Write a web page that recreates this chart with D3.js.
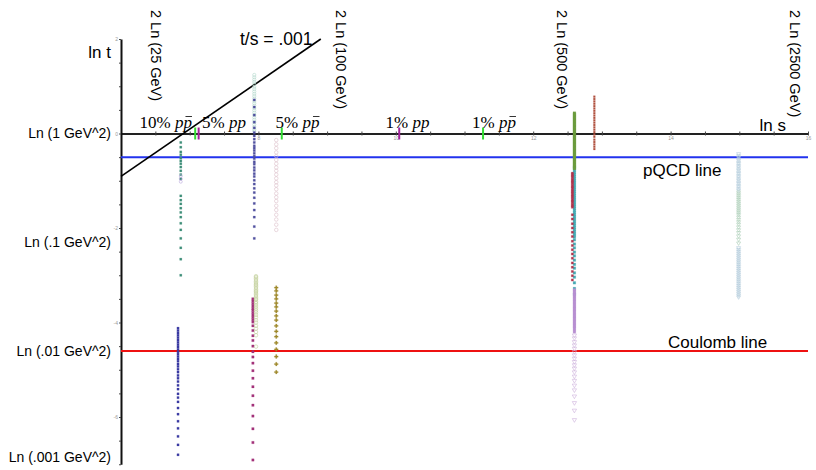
<!DOCTYPE html>
<html>
<head>
<meta charset="utf-8">
<script src="https://cdnjs.cloudflare.com/ajax/libs/d3/7.8.5/d3.min.js"></script>
<style>
  body { margin: 0; background: #fff; }
  text { font-family: "Liberation Sans", Arial, sans-serif; }
</style>
</head>
<body>
<div id="chart"></div>
<script>
// ln s / ln t plane, all point values are ln|t|

// energy marks along the top (ln s where the rotated label sits)
var energyLabels = ["2 Ln (25 GeV)", "2 Ln (100 GeV)", "2 Ln (500 GeV)", "2 Ln (2500 GeV)"];
var energyLabelS = [6.44, 9.13, 12.35, 15.74];

// t labels on the left
var tLabels = ["Ln (1 GeV^2)", "Ln (.1 GeV^2)", "Ln (.01 GeV^2)", "Ln (.001 GeV^2)"];
var tLabelT = [0, Math.log(0.1), Math.log(0.01), -6.85];

// percentage marks on the ln s axis
var pctText = ["10%", "5%", "5%", "1%", "1%"];
var pctBeam = ["ppbar", "pp", "ppbar", "pp", "ppbar"];
var pctLabelS = [6.27, 7.18, 8.25, 9.85, 11.11];
var pctMarkS = [7.08, 7.13, 8.34, 10.05, 11.27];

// reference lines
var pqcdT = -0.5;
var coulombT = Math.log(0.01);
var tsRatio = 0.001;
var tsLineS = [6, 8.908];

// ISR ~31 GeV
var isrTeal = [-0.19, -0.29, -0.39, -0.45, -0.52, -0.58, -0.64, -0.71, -0.79, -0.87, -0.96,
  -1.32, -1.41, -1.49, -1.58, -1.67, -1.77, -1.90, -2.04, -2.22, -2.42, -2.66, -3.00];
var isrLilac = [-0.90, -0.96, -1.02];
var isrBlue = [-4.12, -4.17, -4.22, -4.27, -4.32, -4.37, -4.42, -4.47, -4.52, -4.57, -4.62, -4.67,
  -4.72, -4.77, -4.82, -4.88, -4.93, -4.99, -5.05, -5.12, -5.18, -5.25, -5.33, -5.41, -5.51,
  -5.59, -5.68, -5.81, -5.94, -6.09, -6.24, -6.41, -6.59, -6.80];

// ISR ~53 GeV
var isr53Pale = [1.24, 1.19, 1.14, 1.09, 1.04, 0.99, 0.94, 0.89, 0.84, 0.79, 0.74, 0.69, 0.64,
  0.59, 0.54, 0.49, 0.44, 0.39, 0.34, 0.29, 0.24, 0.19, 0.14, 0.09, 0.05];
var isr53Blue = [0.71, 0.56, 0.39, 0.24, 0.12, 0.02, -0.05, -0.12, -0.19, -0.26, -0.31, -0.36,
  -0.42, -0.48, -0.53, -0.60, -0.65, -0.72, -0.78, -0.85, -0.91, -0.99, -1.07, -1.16, -1.25,
  -1.36, -1.48, -1.62, -1.77, -1.97, -2.22];
var isr53Magenta = [-3.50, -3.55, -3.60, -3.65, -3.70, -3.74, -3.79, -3.84, -3.89, -3.94, -3.99,
  -4.07, -4.17, -4.28, -4.38, -4.50, -4.62, -4.73, -4.86, -5.02, -5.18, -5.36, -5.55, -5.75,
  -5.98, -6.25, -6.54, -6.91];
var isr53Green = [-3.02, -3.04, -3.07, -3.10, -3.13, -3.16, -3.19, -3.21, -3.24, -3.27, -3.30,
  -3.33, -3.35, -3.38, -3.41, -3.44, -3.47, -3.50, -3.52, -3.56, -3.59, -3.63, -3.67, -3.71,
  -3.75, -3.79, -3.84, -3.89, -3.95, -4.00, -4.07, -4.13, -4.20, -4.27, -4.51];

// ISR ~62 GeV
var isr62Pink = [-0.14, -0.23, -0.31, -0.40, -0.48, -0.56, -0.64, -0.72, -0.79, -0.87, -0.95,
  -1.03, -1.10, -1.18, -1.27, -1.35, -1.43, -1.53, -1.62, -1.72, -1.82, -1.93, -2.04];
var isr62Olive = [-3.26, -3.33, -3.42, -3.50, -3.59, -3.67, -3.76, -3.86, -3.95, -4.07, -4.19,
  -4.30, -4.43, -4.57, -4.72, -4.88, -5.05];

// SppS 546 GeV
var sps546Green = [0.43, 0.40, 0.37, 0.34, 0.31, 0.28, 0.25, 0.22, 0.19, 0.16, 0.13, 0.10, 0.07,
  0.04, 0.01, -0.02, -0.05, -0.08, -0.11, -0.14, -0.17, -0.20, -0.23, -0.26, -0.29, -0.32,
  -0.35, -0.38, -0.41, -0.44, -0.47, -0.50, -0.53, -0.56, -0.59, -0.62, -0.65, -0.68, -0.71, -0.74];
var sps546Teal = [-0.71, -0.75, -0.79, -0.83, -0.87, -0.91, -0.95, -0.99, -1.03, -1.07, -1.11,
  -1.15, -1.19, -1.23, -1.27, -1.31, -1.35, -1.39, -1.43, -1.47, -1.51, -1.55, -1.59, -1.63,
  -1.67, -1.71, -1.75, -1.79, -1.83, -1.87, -1.91, -1.95, -1.99, -2.03, -2.07, -2.11, -2.15,
  -2.19, -2.25, -2.34, -2.42, -2.51, -2.59, -2.68, -2.77, -2.85, -2.95, -3.04, -3.16, -3.28, -3.40];
var sps546Red = [-0.84, -0.87, -0.90, -0.93, -0.97, -1.00, -1.03, -1.06, -1.10, -1.13, -1.16,
  -1.20, -1.23, -1.26, -1.30, -1.33, -1.36, -1.40, -1.43, -1.46, -1.50, -1.53, -1.56,
  -1.72, -1.81, -1.91, -2.00, -2.09, -2.18, -2.28, -2.37, -2.46, -2.55, -2.64, -2.74, -2.83,
  -2.92, -3.01, -3.10];
var sps546Purple = [-3.31, -3.34, -3.37, -3.40, -3.43, -3.46, -3.49, -3.52, -3.55, -3.58, -3.61,
  -3.64, -3.67, -3.70, -3.73, -3.76, -3.79, -3.82, -3.85, -3.88, -3.91, -3.94, -3.97, -4.00,
  -4.03, -4.06, -4.09, -4.12, -4.16, -4.20];
var sps546Lilac = [-4.27, -4.33, -4.41, -4.48, -4.55, -4.62, -4.69, -4.76, -4.83, -4.90, -4.97,
  -5.05, -5.14, -5.23, -5.33, -5.43, -5.56, -5.70, -5.86, -6.06];

// SppS 630 GeV
var sps630Brown = [0.78, 0.73, 0.68, 0.63, 0.58, 0.53, 0.48, 0.43, 0.38, 0.33, 0.28, 0.23, 0.18,
  0.13, 0.08, 0.03, -0.02, -0.07, -0.13, -0.18, -0.23, -0.28, -0.33];

// Tevatron 1.8 TeV
var tev1800Upper = [-0.43, -0.47, -0.50, -0.54, -0.57, -0.61, -0.64, -0.68, -0.71, -0.75, -0.78,
  -0.82, -0.85, -0.89, -0.92, -0.96, -0.99, -1.03, -1.06, -1.10, -1.13, -1.17, -1.20];
var tev1800Mid = [-1.24, -1.28, -1.32, -1.36, -1.40, -1.44, -1.48, -1.52, -1.56, -1.60, -1.64,
  -1.68, -1.72, -1.77, -1.82, -1.87, -1.92, -1.98, -2.04, -2.10, -2.17, -2.24, -2.32];
var tev1800Lower = [-2.42, -2.46, -2.50, -2.54, -2.58, -2.62, -2.66, -2.70, -2.74, -2.78, -2.82,
  -2.86, -2.90, -2.94, -2.98, -3.02, -3.06, -3.10, -3.14, -3.18, -3.22, -3.26, -3.30, -3.34,
  -3.38, -3.42, -3.46];

var series = [
  {s: 6.87, t: isrTeal, color: "#3e8e78", sym: d3.symbolSquare, size: 5, open: false},
  {s: 6.87, t: isrLilac, color: "#b9a8dc", sym: d3.symbolCircle, size: 7, open: true},
  {s: 6.83, t: isrBlue, color: "#3b3ba3", sym: d3.symbolSquare, size: 5, open: false},
  {s: 7.94, t: isr53Pale, color: "#b3d8cd", sym: d3.symbolCircle, size: 8, open: true},
  {s: 7.94, t: isr53Blue, color: "#5050a0", sym: d3.symbolSquare, size: 5, open: false},
  {s: 7.92, t: isr53Magenta, color: "#a3337a", sym: d3.symbolSquare, size: 6, open: false},
  {s: 7.965, t: isr53Green, color: "#c2d09c", sym: d3.symbolCircle, size: 10, open: true},
  {s: 8.26, t: isr62Pink, color: "#dcbfca", sym: d3.symbolCircle, size: 10, open: true},
  {s: 8.26, t: isr62Olive, color: "#a08a2c", sym: d3.symbolCross, size: 8, open: false},
  {s: 12.60, t: sps546Teal, color: "#45aab4", sym: d3.symbolSquare, size: 7, open: false},
  {s: 12.60, t: sps546Green, color: "#6c9c3e", sym: d3.symbolSquare, size: 8, open: false},
  {s: 12.57, t: sps546Red, color: "#b2354d", sym: d3.symbolSquare, size: 5, open: false},
  {s: 12.60, t: sps546Purple, color: "#b890d2", sym: d3.symbolSquare, size: 7, open: false},
  {s: 12.60, t: sps546Lilac, color: "#cdb0dc", sym: d3.symbolTriangle, size: 8, open: true},
  {s: 12.89, t: sps630Brown, color: "#b0503f", sym: d3.symbolSquare, size: 3.5, open: false},
  {s: 14.99, t: tev1800Upper, color: "#b4cddc", sym: d3.symbolTriangle, size: 7, open: true},
  {s: 14.99, t: tev1800Mid, color: "#a9cdb6", sym: d3.symbolTriangle, size: 7, open: true},
  {s: 14.99, t: tev1800Lower, color: "#adc8d9", sym: d3.symbolTriangle, size: 7, open: true}
];

var width = 816, height = 470;

var svg = d3.select("#chart").append("svg")
  .attr("width", width)
  .attr("height", height);

var x = d3.scaleLinear().domain([6, 16]).range([121, 808]);
var y = d3.scaleLinear().domain([2, -7]).range([39, 464.25]);

// axes: thin ticks every .5, tiny labels on even numbers
var xAxis = d3.axisBottom(x)
  .tickValues(d3.range(6, 16.01, 0.5))
  .tickSize(2).tickSizeOuter(0)
  .tickFormat(function(d) { return (d % 2 === 0 && d > 6) ? d : ""; });
var gx = svg.append("g")
  .attr("transform", "translate(0," + y(0) + ")")
  .call(xAxis);
gx.select(".domain").attr("stroke", "#222").attr("stroke-width", 2);
gx.selectAll(".tick line").attr("stroke", "#444").attr("y1", -2);
gx.selectAll(".tick text").attr("font-size", 5).attr("fill", "#999").attr("dy", "0.2em");

var yAxis = d3.axisLeft(y)
  .tickValues(d3.range(-7, 2.01, 0.5))
  .tickSize(2).tickSizeOuter(0)
  .tickFormat(function(d) { return (d % 2 === 0) ? d : ""; });
var gy = svg.append("g")
  .attr("transform", "translate(" + x(6) + ",0)")
  .call(yAxis);
gy.select(".domain").attr("stroke", "#111").attr("stroke-width", 2);
gy.selectAll(".tick line").attr("stroke", "#444");
gy.selectAll(".tick text").attr("font-size", 5).attr("fill", "#999").attr("x", -3);

// reference lines
svg.append("line")
  .attr("x1", x(6)).attr("x2", x(16))
  .attr("y1", y(pqcdT)).attr("y2", y(pqcdT))
  .attr("stroke", "#2233ee").attr("stroke-width", 2);
svg.append("line")
  .attr("x1", x(6)).attr("x2", x(16))
  .attr("y1", y(coulombT)).attr("y2", y(coulombT))
  .attr("stroke", "#ee1111").attr("stroke-width", 2);

var tsLine = d3.line()
  .x(function(d) { return x(d); })
  .y(function(d) { return y(d + Math.log(tsRatio)); });
svg.append("path")
  .datum(tsLineS)
  .attr("d", tsLine)
  .attr("fill", "none")
  .attr("stroke", "#000")
  .attr("stroke-width", 1.6);

// data columns
series.forEach(function(sr) {
  var sym = d3.symbol().type(sr.sym).size(sr.size);
  svg.append("g").selectAll("path")
    .data(sr.t)
    .enter().append("path")
    .attr("d", sym)
    .attr("transform", function(d) {
      return "translate(" + x(sr.s) + "," + y(d) + ")" + (sr.sym === d3.symbolTriangle ? " rotate(180)" : "");
    })
    .attr("fill", sr.open ? "none" : sr.color)
    .attr("stroke", sr.color)
    .attr("stroke-width", sr.open ? 0.6 : 0.2);
});

// percentage marks on the axis
svg.selectAll(".pmark")
  .data(pctMarkS)
  .enter().append("line")
  .attr("x1", function(d) { return x(d); })
  .attr("x2", function(d) { return x(d); })
  .attr("y1", y(0) - 6).attr("y2", y(0) + 6)
  .attr("stroke", function(d, i) { return pctBeam[i] === "pp" ? "#a3229a" : "#33dd33"; })
  .attr("stroke-width", 2);

pctText.forEach(function(p, i) {
  var t = svg.append("text")
    .attr("x", x(pctLabelS[i]))
    .attr("y", y(0) - 6)
    .attr("font-size", 17)
    .style("font-family", "'Liberation Serif', 'Times New Roman', serif");
  t.append("tspan").text(p + " ");
  t.append("tspan").attr("font-style", "italic").text("pp");
  if (pctBeam[i] === "ppbar") {
    var n = t.text().length;
    var box = t.node().getExtentOfChar(n - 1);
    svg.append("line")
      .attr("x1", box.x + 2).attr("x2", box.x + box.width)
      .attr("y1", box.y + 4).attr("y2", box.y + 4)
      .attr("stroke", "#000").attr("stroke-width", 0.8);
  }
});

// rotated energy labels along the top
svg.selectAll(".elabel")
  .data(energyLabels)
  .enter().append("text")
  .attr("transform", function(d, i) { return "translate(" + x(energyLabelS[i]) + ",10) rotate(90)"; })
  .attr("font-size", 14.5)
  .text(function(d) { return d; });

// t labels
svg.selectAll(".tlabel")
  .data(tLabels)
  .enter().append("text")
  .attr("x", 111)
  .attr("y", function(d, i) { return y(tLabelT[i]); })
  .attr("dy", "0.35em")
  .attr("text-anchor", "end")
  .attr("font-size", 14)
  .text(function(d) { return d; });

// axis names and notes
svg.append("text").attr("x", 111).attr("y", 58).attr("text-anchor", "end")
  .attr("font-size", 17).text("ln t");
svg.append("text").attr("x", 786).attr("y", 131).attr("text-anchor", "end")
  .attr("font-size", 17).text("ln s");
svg.append("text").attr("x", 240).attr("y", 45)
  .attr("font-size", 17.5).text("t/s = .001");
svg.append("text").attr("x", 643).attr("y", y(pqcdT) + 19)
  .attr("font-size", 17).text("pQCD line");
svg.append("text").attr("x", 668).attr("y", y(coulombT) - 3)
  .attr("font-size", 17).text("Coulomb line");
</script>
</body>
</html>
